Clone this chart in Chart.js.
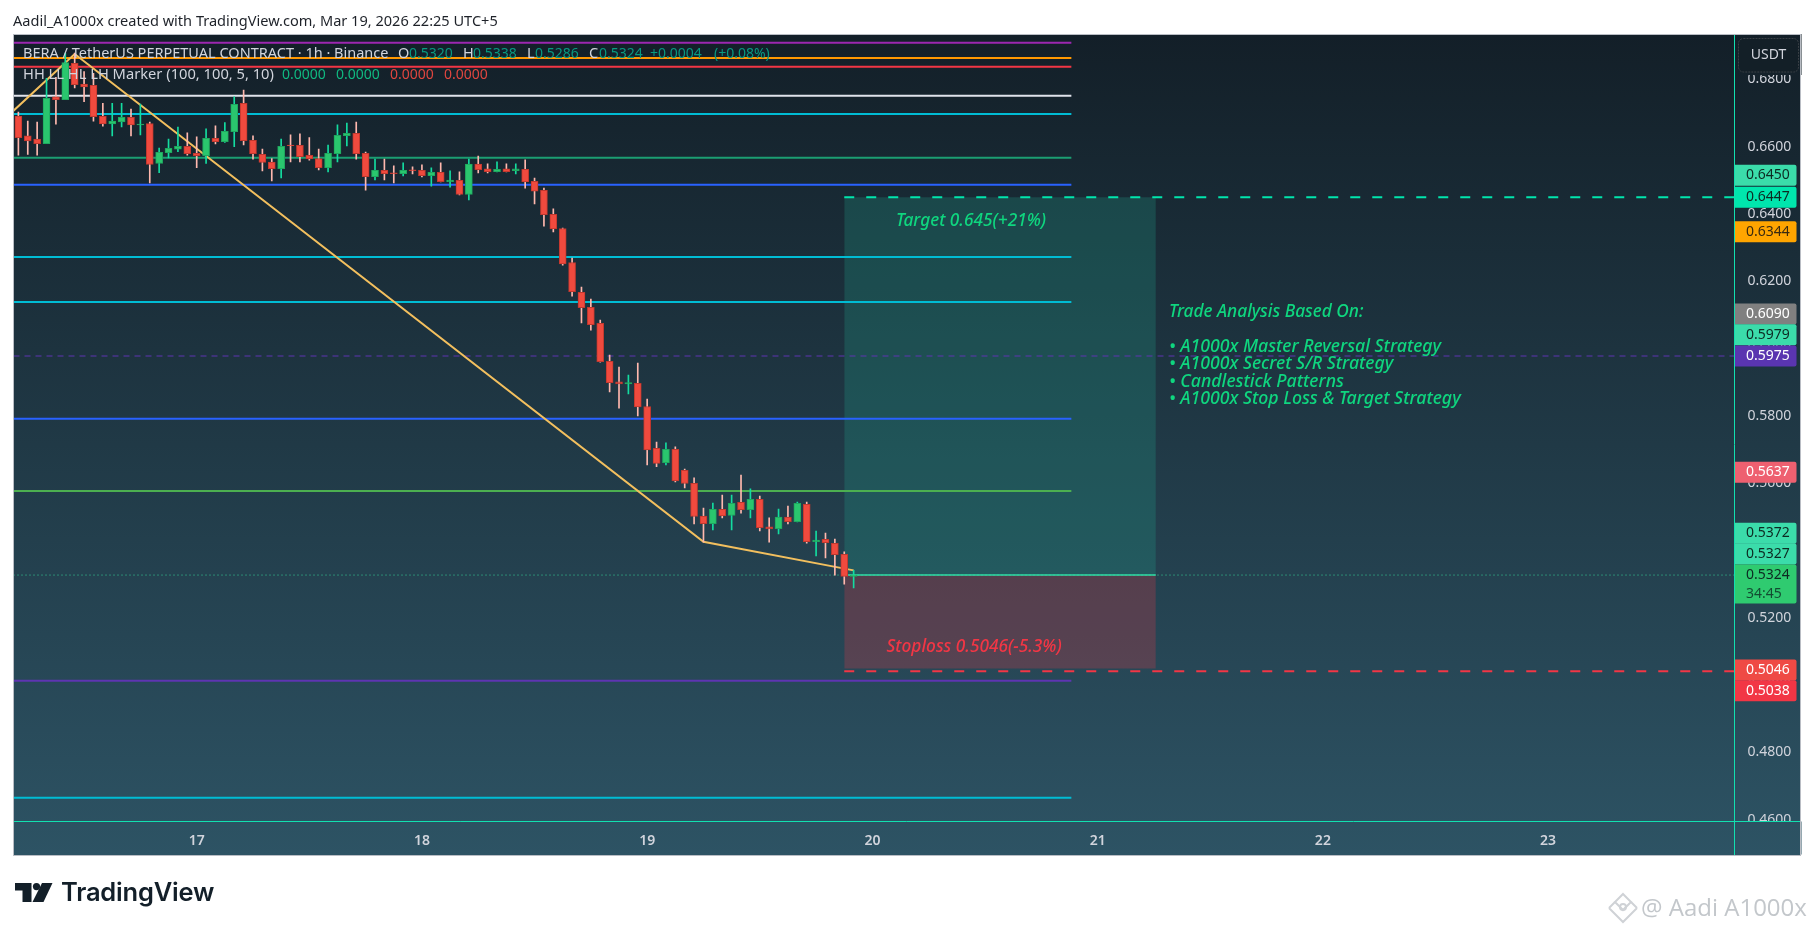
<!DOCTYPE html>
<html><head><meta charset="utf-8">
<style>
html,body{margin:0;padding:0;background:#fff;width:1814px;height:931px;overflow:hidden;font-family:'Noto Sans',sans-serif}
canvas{position:absolute;left:0;top:0}
#hdr{position:absolute;left:13px;top:10px;font-size:14.55px;line-height:20px;color:#1e2229;white-space:nowrap}
#logoWord{position:absolute;left:61px;top:875px;font-family:Inter,sans-serif;font-weight:600;font-size:25.5px;line-height:34px;color:#131f29;letter-spacing:-.2px}
#logo{position:absolute;left:15px;top:883px}
#wmark{position:absolute;left:1641px;top:891px;font-family:'Open Sans',sans-serif;font-size:24px;line-height:32px;color:#c3c7cb;white-space:nowrap;text-shadow:0 0 2px #fff}
#wlogo{position:absolute;left:1607px;top:892px}
</style>
<script src="https://cdn.jsdelivr.net/npm/chart.js@4/dist/chart.umd.min.js"></script>
</head><body>
<canvas id="c" width="1814" height="931"></canvas>
<div id="hdr">Aadil_A1000x created with TradingView.com, Mar 19, 2026 22:25 UTC+5</div>
<svg id="logo" width="38" height="20" viewBox="0 0 38 20"><path d="M0 0H16.5V19H7.5V7.5H0Z" fill="#131f29"/><circle cx="21.5" cy="3.6" r="3.6" fill="#131f29"/><path d="M27 0H37.5L28.5 19H17.5Z" fill="#131f29"/></svg>
<div id="logoWord">TradingView</div>
<svg id="wlogo" width="32" height="32" viewBox="0 0 32 32" fill="none" stroke="#cfd2d6" stroke-width="2"><path d="M16 2L24 10L16 18L8 10Z"/><path d="M2 16L8 10M30 16L24 10M2 16L16 30L30 16"/><circle cx="16" cy="15" r="3"/></svg>
<div id="wmark">@ Aadi A1000x</div>
<script>
// ---- data ----
const firstHour = -19;           // hours relative to day 17 00:00
const opens  = [.6688,.6629,.6620,.6606,.6745,.6737,.6845,.6783,.6779,.6687,.6665,.6671,.6684,.6662,.6666,.6547,.6579,.6590,.6598,.6577,.6570,.6622,.6612,.6642,.6726,.6616,.6574,.6551,.6532,.6602,.6601,.6571,.6562,.6535,.6576,.6630,.6637,.6577,.6508,.6527,.6519,.6517,.6528,.6527,.6511,.6521,.6493,.6497,.6455,.6545,.6531,.6523,.6531,.6526,.6530,.6494,.6467,.6396,.6354,.6253,.6164,.6120,.6072,.5959,.5898,.5892,.5894,.5825,.5701,.5658,.5698,.5635,.5597,.5499,.5477,.5519,.5501,.5540,.5518,.5549,.5467,.5462,.5496,.5483,.5534,.5423,.5430,.5418,.5386,.5320];
const highs  = [.6700,.6673,.6670,.6800,.6803,.6875,.6875,.6820,.6815,.6726,.6726,.6726,.6709,.6724,.6670,.6593,.6620,.6655,.6638,.6626,.6650,.6659,.6669,.6745,.6765,.6629,.6590,.6562,.6620,.6632,.6635,.6624,.6590,.6602,.6662,.6667,.6670,.6581,.6560,.6560,.6540,.6549,.6537,.6543,.6534,.6549,.6525,.6522,.6560,.6569,.6546,.6552,.6546,.6546,.6558,.6504,.6474,.6412,.6355,.6266,.6180,.6144,.6082,.5978,.5942,.5918,.5954,.5847,.5719,.5717,.5705,.5639,.5613,.5523,.5538,.5562,.5562,.5621,.5580,.5559,.5494,.5520,.5529,.5541,.5541,.5455,.5449,.5431,.5393,.5338];
const lows   = [.6572,.6574,.6572,.6606,.6664,.6737,.6772,.6731,.6673,.6658,.6629,.6656,.6629,.6632,.6489,.6520,.6564,.6582,.6572,.6535,.6547,.6605,.6610,.6597,.6602,.6560,.6525,.6495,.6504,.6552,.6552,.6557,.6528,.6522,.6552,.6599,.6560,.6468,.6498,.6498,.6489,.6510,.6516,.6507,.6480,.6492,.6477,.6454,.6439,.6519,.6519,.6522,.6522,.6516,.6474,.6427,.6361,.6344,.6245,.6153,.6073,.6052,.5957,.5868,.5820,.5862,.5797,.5651,.5646,.5651,.5601,.5583,.5476,.5422,.5458,.5494,.5458,.5508,.5494,.5455,.5422,.5446,.5476,.5482,.5419,.5381,.5375,.5324,.5297,.5286];
const closes = [.6624,.6614,.6606,.6741,.6737,.6847,.6781,.6775,.6686,.6665,.6673,.6684,.6662,.6664,.6544,.6580,.6592,.6598,.6576,.6570,.6622,.6612,.6643,.6723,.6615,.6576,.6550,.6532,.6598,.6600,.6567,.6561,.6535,.6577,.6631,.6637,.6576,.6508,.6527,.6517,.6517,.6527,.6526,.6511,.6521,.6493,.6498,.6455,.6545,.6529,.6523,.6530,.6523,.6531,.6492,.6465,.6395,.6353,.6249,.6166,.6119,.6068,.5958,.5896,.5892,.5896,.5824,.5696,.5656,.5698,.5604,.5596,.5498,.5477,.5519,.5500,.5537,.5518,.5549,.5465,.5461,.5496,.5483,.5537,.5423,.5428,.5420,.5385,.5320,.5324];

const levelPrices = [.69061,.68606,.68348,.67486,.66942,.65643,.64841,.62692,.61355,.57887,.55739,.50101,.46624];
const levelColors = ['#9c27b0','#ff9800','#f23645','#e0e3eb','#00bcd4','#1b9e72','#2962ff','#00bcd4','#00bcd4','#2962ff','#4caf50','#5e35b1','#00bcd4'];
const levelEndHour = 93.2;
const zigHours  = [-19.52,-13,54,70];
const zigPrices = [.6704,.68725,.5423,.5338];
const lastPrice = .5324, targetPrice = .6447, targetBoxTop = .6447, stopBoxBottom = .5046, stopPrice = .5038, pivotPrice = .5975;
const boxStartHour = 69, boxEndHour = 102.2;
const priceTicks = [.46,.48,.50,.52,.54,.56,.58,.60,.62,.64,.66,.68];
const dayHours  = [0,24,48,72,96,120,144];
const dayLabels = ['17','18','19','20','21','22','23'];
const tagLabels = ['0.6450','0.6447','0.6344','0.6090','0.5979','0.5975','0.5637','0.5372','0.5327','0.5324','0.5046','0.5038'];
const tagPrices = [.6450,.6447,.6344,.6090,.5979,.5975,.5637,.5372,.5327,.5324,.5046,.5038];
const tagShift  = [-21,0,0,-3.4,-20,0,2.4,-25.7,-20,0,1.4,19.4];
const tagHeight = [21,21,21,21,21,21,21,21,21,39,21,21];
const tagFill   = ['#3bdcaa','#00e6ad','#ffa500','#808080','#3bdcaa','#5a35b0','#ee6070','#3bdcaa','#3bdcaa','#2fcb70','#ef4a45','#f23645'];
const tagText   = ['#0d2a22','#0d2a22','#3a2a10','#fff','#0d2a22','#fff','#fff','#0d2a22','#0d2a22','#0d2a22','#fff','#fff'];

// ---- datasets ----
const hours = opens.map((_,i)=>firstHour+i);
const UP='#2ac66e',UPB='#1fa85f',DN='#f04a3e',DNB='#c2382e',UPW='#14dca0',DNW='#ffb8ae';
const isUp = opens.map((o,i)=>closes[i]>=o);
const line = (xs,ys,color,w,extra)=>Object.assign({type:'line',data:xs.map((x,i)=>({x,y:ys[i]})),borderColor:color,borderWidth:w,pointRadius:0,tension:0,fill:false,order:5},extra||{});
const XMIN=-19.52, XMAX=163.86;
const datasets=[];
datasets.push(line([boxStartHour,boxEndHour],[targetBoxTop,targetBoxTop],'rgba(0,0,0,0)',0,{fill:{value:lastPrice},backgroundColor:'rgba(34,171,148,.24)',order:9}));
datasets.push(line([boxStartHour,boxEndHour],[stopBoxBottom,stopBoxBottom],'rgba(0,0,0,0)',0,{fill:{value:lastPrice},backgroundColor:'rgba(242,54,69,.24)',order:9}));
levelPrices.forEach((p,i)=>datasets.push(line([XMIN,levelEndHour],[p,p],levelColors[i],2,{order:8})));
datasets.push(line([XMIN,XMAX],[pivotPrice,pivotPrice],'#5e35b1',1.2,{borderDash:[6,5],order:8}));
datasets.push(line([XMIN,XMAX],[lastPrice,lastPrice],'#35d39a',1,{borderDash:[1,3],order:8}));
datasets.push(line([boxStartHour,boxEndHour],[lastPrice,lastPrice],'#2fdca5',1.5,{order:7}));
datasets.push(line([boxStartHour,XMAX],[targetPrice,targetPrice],'#00e6ad',2,{borderDash:[10,12],order:7}));
datasets.push(line([boxStartHour,XMAX],[stopPrice,stopPrice],'#f23645',2,{borderDash:[10,12],order:7}));
datasets.push(line(zigHours,zigPrices,'#f2bf5e',2,{order:6}));
datasets.push({type:'bar',grouped:false,barThickness:1,order:3,
  data:hours.map((h,i)=>({x:h,y:[lows[i],highs[i]]})),
  backgroundColor:isUp.map(u=>u?UPW:DNW),borderWidth:0});
datasets.push({type:'bar',grouped:false,barThickness:7,order:2,borderSkipped:false,borderWidth:1,
  data:hours.map((h,i)=>({x:h,y:[opens[i],closes[i]]})),
  backgroundColor:isUp.map(u=>u?UP:DN),borderColor:isUp.map(u=>u?UPB:DNB)});

const FF="'Noto Sans',sans-serif";
const AXC='#d1d4dc', MINT='#12e0b0';
let bg=null;
const paint={id:'paint',
 beforeDraw(ch){const c=ch.ctx;c.save();c.fillStyle='#fff';c.fillRect(0,0,1814,931);
   bg=c.createLinearGradient(0,34,0,855);bg.addColorStop(0,'#131f28');bg.addColorStop(1,'#2d5364');
   c.fillStyle=bg;c.fillRect(13.5,34,1787,821);c.restore();},
 afterDraw(ch){const c=ch.ctx,Y=ch.scales.y,X=ch.scales.x,a=ch.chartArea;c.save();
   // clip the lowest price label at the pane edge, and the top one under the button
   c.fillStyle=bg;c.fillRect(a.right+1,a.bottom,66,33);c.fillRect(a.right+1,34,66,41);
   // annotation text
   c.textBaseline='middle';c.textAlign='left';
   c.font="italic 500 17.3px "+FF;c.fillStyle='#0fd67f';
   c.fillText('Target 0.645(+21%)',896,220.7);
   c.fillText('Trade Analysis Based On:',1169,311.7);
   c.font="italic 500 17.7px "+FF;
   ['• A1000x Master Reversal Strategy','• A1000x Secret S/R Strategy','• Candlestick Patterns','• A1000x Stop Loss & Target Strategy'].forEach((t,i)=>c.fillText(t,1169,347+i*17.4));
   c.font="italic 500 17.3px "+FF;
   c.fillStyle='#f23645';c.fillText('Stoploss 0.5046(-5.3%)',886.5,647.3);
   // legend
   c.font="14.5px "+FF;c.fillStyle=AXC;
   c.fillText('BERA / TetherUS PERPETUAL CONTRACT · 1h · Binance',23,54);
   c.fillText('O',398,54);c.fillText('H',463,54);c.fillText('L',527,54);c.fillText('C',589,54);
   c.font="14.7px "+FF;
   c.fillText('HH LL HL LH Marker (100, 100, 5, 10)',23,75);
   c.font="14px "+FF;c.fillStyle='#089981';
   [[409,'0.5320'],[473,'0.5338'],[535,'0.5286'],[599,'0.5324'],[650,'+0.0004'],[714,'(+0.08%)']].forEach(t=>c.fillText(t[1],t[0],54));
   c.fillStyle='#10b981';c.fillText('0.0000',282,75);c.fillText('0.0000',336,75);
   c.fillStyle='#e0463f';c.fillText('0.0000',390,75);c.fillText('0.0000',444,75);
   // axis lines and frame
   c.strokeStyle=MINT;c.lineWidth=1;c.beginPath();
   c.moveTo(a.right,34);c.lineTo(a.right,855);c.moveTo(13.5,a.bottom);c.lineTo(1800,a.bottom);c.stroke();
   // price tags
   tagLabels.forEach((t,i)=>{const py=Y.getPixelForValue(tagPrices[i])+tagShift[i];const h=tagHeight[i];
     const top=py-10.5;
     c.fillStyle=tagFill[i];c.beginPath();c.roundRect(1735,top,61.5,h,[0,2,2,0]);c.fill();
     c.fillStyle=tagText[i];c.font="14px "+FF;c.fillText(t,1746,top+10.5);
     if(h>21){c.font="14px "+FF;c.globalAlpha=.8;c.fillText('34:45',1746,top+29);c.globalAlpha=1;}
   });
   // currency button
   c.fillStyle='#131f27';c.strokeStyle='#3a4046';c.setLineDash([2,1]);c.beginPath();c.roundRect(1738.5,38.5,60,33.5,5);c.fill();c.stroke();c.setLineDash([]);
   c.fillStyle=AXC;c.font="14px "+FF;c.textAlign='center';c.fillText('USDT',1768.5,55);
   // frame
   c.strokeStyle='#b9bdc4';c.lineWidth=1;c.strokeRect(13.5,34.5,1787,821);
   c.restore();}
};

new Chart(document.getElementById('c'),{type:'bar',data:{datasets},plugins:[paint],options:{
  responsive:false,animation:false,devicePixelRatio:1,
  layout:{padding:{left:13.5,top:34,right:14,bottom:76}},
  plugins:{legend:{display:false},tooltip:{enabled:false}},
  events:[],
  scales:{
   x:{type:'linear',offset:false,min:XMIN,max:XMAX,grid:{display:false},border:{display:false},
      afterBuildTicks(s){s.ticks=dayHours.map(v=>({value:v}));},
      afterFit(s){s.height=33.5;},
      ticks:{autoSkip:false,maxRotation:0,padding:3,color:AXC,font:{family:FF,size:14,weight:'600'},
        callback:(v)=>{const i=dayHours.indexOf(v);return i>=0?dayLabels[i]:'';}}},
   y:{position:'right',min:.45917,max:.69319,grid:{display:false},border:{display:false},
      afterBuildTicks(s){s.ticks=priceTicks.map(v=>({value:v}));},
      afterFit(s){s.width=65.5;},
      ticks:{autoSkip:false,padding:5,labelOffset:1,color:AXC,font:{family:FF,size:14},callback:v=>v.toFixed(4)}}
  }}});
</script>
</body></html>
